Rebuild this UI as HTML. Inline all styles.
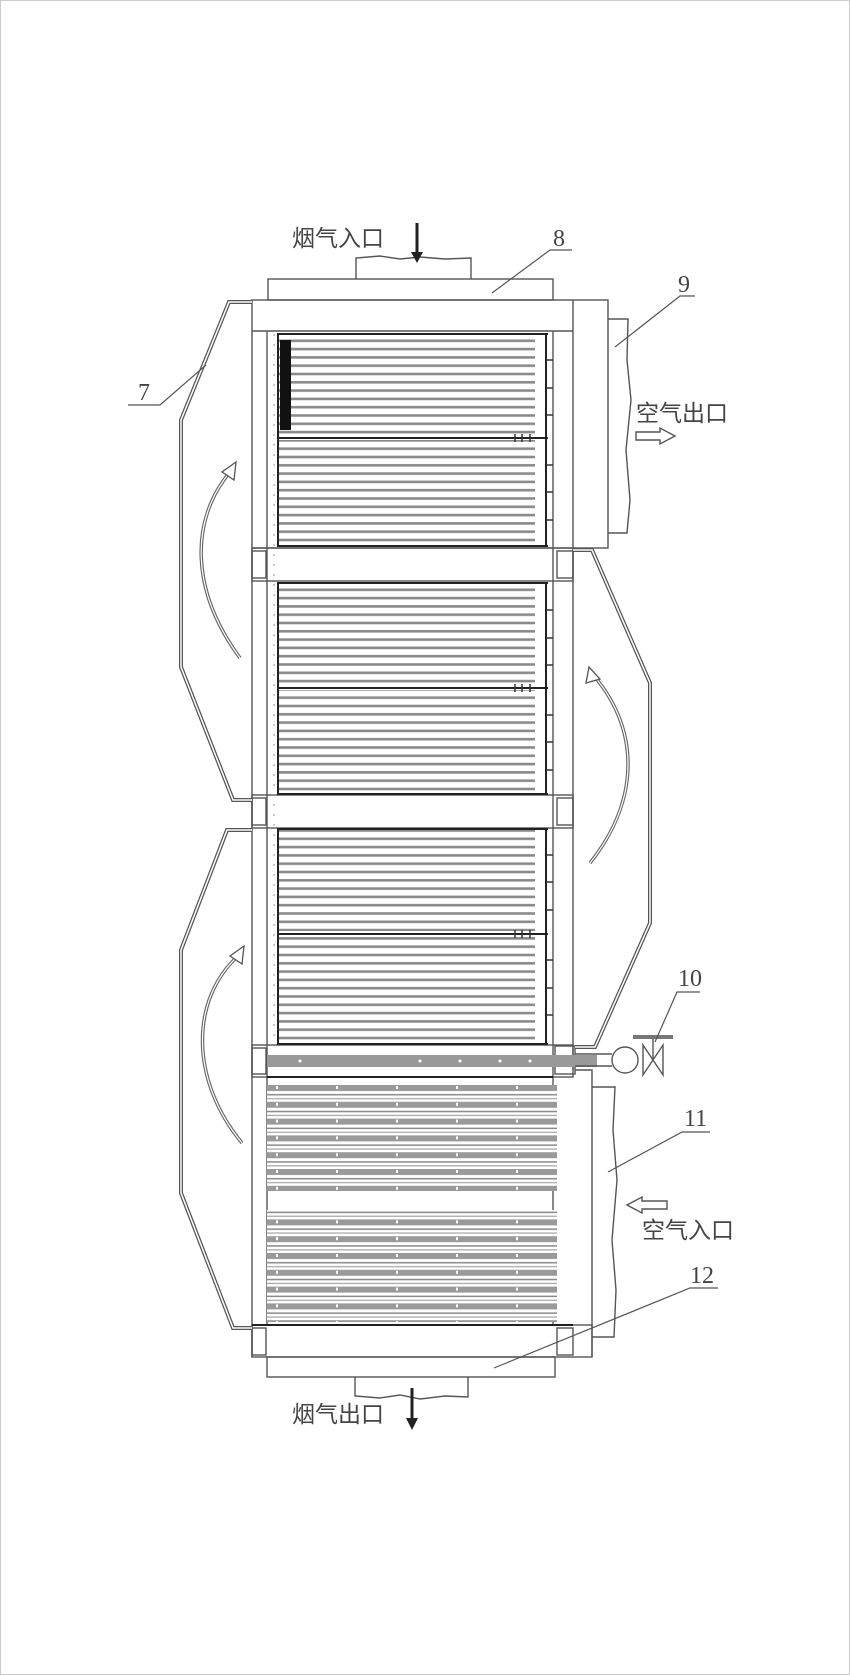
<!DOCTYPE html>
<html><head><meta charset="utf-8">
<style>
html,body{margin:0;padding:0;background:#fff;}
svg{display:block;}
.t{font-family:"Liberation Sans","Noto Sans CJK SC",sans-serif;font-size:23px;fill:#444;}
.n{font-family:"Liberation Serif","DejaVu Serif",serif;font-size:24px;fill:#444;}
</style></head><body>
<svg width="850" height="1675" viewBox="0 0 850 1675" xmlns="http://www.w3.org/2000/svg">
<defs>
<pattern id="tubes" patternUnits="userSpaceOnUse" width="20" height="8.3" y="337">
<rect x="0" y="0" width="20" height="8.3" fill="#fff"/>
<rect x="0" y="2.5" width="20" height="2.6" fill="#8a8a8a"/>
</pattern>
<pattern id="low" patternUnits="userSpaceOnUse" width="60" height="16.8" y="1085">
<rect width="60" height="16.8" fill="#fff"/>
<rect x="0" y="0" width="60" height="6" fill="#9a9a9a"/>
<rect x="0" y="9" width="60" height="1.5" fill="#888"/>
<rect x="0" y="13" width="60" height="1.3" fill="#aaa"/>
<rect x="36" y="1" width="2" height="3" fill="#fff"/>
</pattern>
</defs>
<rect x="0.5" y="0.5" width="849" height="1674" fill="#fff" stroke="#ccc"/>

<g fill="none" stroke="#555" stroke-width="1.4">
<!-- inlet duct & plenum 8 -->
<path d="M356,279 V258 L380,256 L400,259 L420,257 L445,259 L471,258 V279"/>
<rect x="268" y="279" width="285" height="21"/>
<!-- frame -->
<rect x="252" y="300" width="356" height="248"/>
<line x1="252" y1="331" x2="573" y2="331"/>
<line x1="573" y1="300" x2="573" y2="1070"/>
<line x1="267" y1="331" x2="267" y2="1325"/>
<line x1="553" y1="331" x2="553" y2="1325"/>
<line x1="252" y1="548" x2="252" y2="1357"/>
<!-- module 9 -->
<path d="M608,319 H628 L627,360 L631,400 L626,450 L630,500 L627,533 H608"/>
<!-- bands -->
<rect x="252" y="548" width="321" height="33"/>
<rect x="252" y="795" width="321" height="33"/>
<rect x="252" y="1045" width="321" height="32"/>
<rect x="252" y="1325" width="340" height="32"/>
<rect x="252" y="551" width="14" height="27"/><rect x="557" y="551" width="16" height="27"/>
<rect x="252" y="798" width="14" height="27"/><rect x="557" y="798" width="16" height="27"/>
<rect x="252" y="1048" width="14" height="26"/><rect x="555" y="1046" width="20" height="28"/>
<rect x="252" y="1328" width="14" height="27"/><rect x="557" y="1328" width="16" height="27"/>
<!-- lower right column and module 11 -->
<path d="M575,1070 H592 V1357"/>
<path d="M592,1087 H615 L613,1130 L617,1180 L612,1240 L616,1290 L614,1337 H592"/>
<!-- bottom plenum, outlet -->
<rect x="267" y="1357" width="288" height="20"/>
<path d="M355,1377 V1396 L380,1398 L400,1395 L420,1399 L445,1396 L468,1397 V1377"/>
</g>

<!-- tube modules upper -->
<g>
<rect x="278" y="335" width="257" height="100" fill="url(#tubes)"/>
<rect x="278" y="440" width="257" height="105" fill="url(#tubes)"/>
<rect x="278" y="583" width="257" height="102" fill="url(#tubes)"/>
<rect x="278" y="690" width="257" height="103" fill="url(#tubes)"/>
<rect x="278" y="830" width="257" height="101" fill="url(#tubes)"/>
<rect x="278" y="936" width="257" height="107" fill="url(#tubes)"/>
<rect x="280" y="340" width="11" height="90" fill="#111"/>
</g>
<g stroke="#222" stroke-width="2" fill="none">
<line x1="277" y1="334" x2="548" y2="334"/><line x1="277" y1="438" x2="548" y2="438"/><line x1="277" y1="546" x2="548" y2="546"/>
<line x1="277" y1="583" x2="548" y2="583"/><line x1="277" y1="688" x2="548" y2="688"/><line x1="277" y1="794" x2="548" y2="794"/>
<line x1="277" y1="829" x2="548" y2="829"/><line x1="277" y1="934" x2="548" y2="934"/><line x1="277" y1="1044" x2="548" y2="1044"/>
<line x1="546" y1="334" x2="546" y2="546"/><line x1="546" y1="583" x2="546" y2="794"/><line x1="546" y1="829" x2="546" y2="1044"/>
<line x1="278" y1="334" x2="278" y2="546"/><line x1="278" y1="583" x2="278" y2="794"/><line x1="278" y1="829" x2="278" y2="1044"/>
</g>
<g stroke="#333" stroke-width="1.5">
<path d="M546,360h7M546,388h7M546,415h7M546,465h7M546,492h7M546,520h7M546,610h7M546,638h7M546,665h7M546,715h7M546,742h7M546,770h7M546,855h7M546,882h7M546,910h7M546,960h7M546,988h7M546,1015h7"/>
<path d="M515,434v8M522,434v8M530,434v8M515,684v8M522,684v8M530,684v8M515,930v8M522,930v8M530,930v8"/>
</g>
<g stroke="#999" stroke-width="1" stroke-dasharray="2,8">
<line x1="274" y1="334" x2="274" y2="1044"/>
</g>
<!-- header pipe -->
<rect x="267" y="1055" width="330" height="12" fill="#999"/>
<g fill="#fff"><circle cx="300" cy="1061" r="1.5"/><circle cx="420" cy="1061" r="1.5"/><circle cx="460" cy="1061" r="1.5"/><circle cx="500" cy="1061" r="1.5"/><circle cx="530" cy="1061" r="1.5"/></g>
<line x1="267" y1="1077" x2="553" y2="1077" stroke="#222" stroke-width="2"/>
<!-- lower banks -->
<rect x="267" y="1085" width="290" height="106" fill="url(#low)"/>
<rect x="267" y="1210" width="290" height="112" fill="url(#low)"/>
<line x1="252" y1="1325" x2="573" y2="1325" stroke="#222" stroke-width="2"/>

<!-- bypass ducts -->
<g fill="none" stroke="#555" stroke-width="4">
<path d="M252,302 H229 L181,420 V667 L233,800 H252"/>
<path d="M252,830 H227 L181,950 V1193 L233,1328 H252"/>
<path d="M573,550 H592 L650,683 V923 L595,1047 H575"/>
</g>
<g fill="none" stroke="#fff" stroke-width="1.5">
<path d="M252,302 H229 L181,420 V667 L233,800 H252"/>
<path d="M252,830 H227 L181,950 V1193 L233,1328 H252"/>
<path d="M573,550 H592 L650,683 V923 L595,1047 H575"/>
</g>

<!-- curved arrows -->
<g fill="none" stroke="#666" stroke-width="3.5">
<path d="M240,658 C190,590 190,520 230,472"/>
<path d="M242,1143 C190,1080 190,1000 238,956"/>
<path d="M590,863 C640,800 640,730 594,676"/>
</g>
<g fill="none" stroke="#fff" stroke-width="1.2">
<path d="M240,658 C190,590 190,520 230,472"/>
<path d="M242,1143 C190,1080 190,1000 238,956"/>
<path d="M590,863 C640,800 640,730 594,676"/>
</g>
<g fill="#fff" stroke="#555" stroke-width="1.3">
<polygon points="236,462 222,472 234,480"/>
<polygon points="244,946 230,956 242,964"/>
<polygon points="589,667 586,683 600,679"/>
</g>

<!-- valve 10 -->
<g fill="none" stroke="#555" stroke-width="1.4">
<line x1="575" y1="1054" x2="612" y2="1054"/><line x1="575" y1="1066" x2="612" y2="1066"/>
<circle cx="625" cy="1060" r="13"/>
<polygon points="643,1045 663,1075 663,1045 643,1075"/>
<line x1="653" y1="1060" x2="653" y2="1037"/>
</g>
<rect x="633" y="1035" width="40" height="4" fill="#777"/>

<!-- arrows flue -->
<g stroke="#222" stroke-width="3">
<line x1="417" y1="223" x2="417" y2="254"/>
<line x1="412" y1="1388" x2="412" y2="1420"/>
</g>
<polygon points="411,252 423,252 417,263" fill="#222"/>
<polygon points="406,1418 418,1418 412,1430" fill="#222"/>
<!-- air arrows -->
<g fill="#fff" stroke="#555" stroke-width="1.4">
<path d="M636,432 H660 V428 L675,436 L660,444 V440 H636 Z"/>
<path d="M667,1201 H642 V1197 L627,1205 L642,1213 V1209 H667 Z"/>
</g>

<!-- leaders -->
<g fill="none" stroke="#555" stroke-width="1.2">
<path d="M492,293 L550,250 H572"/>
<path d="M615,347 L680,296 H695"/>
<path d="M206,365 L160,405 H128"/>
<path d="M655,1042 L677,992 H700"/>
<path d="M608,1172 L682,1132 H710"/>
<path d="M494,1368 L690,1288 H718"/>
</g>

<!-- text -->
<text class="t" x="292" y="246">烟气入口</text>
<text class="t" x="292" y="1422">烟气出口</text>
<text class="t" x="636" y="421">空气出口</text>
<text class="t" x="642" y="1238">空气入口</text>
<text class="n" x="553" y="246">8</text>
<text class="n" x="678" y="292">9</text>
<text class="n" x="138" y="400">7</text>
<text class="n" x="678" y="986">10</text>
<text class="n" x="684" y="1126">11</text>
<text class="n" x="690" y="1283">12</text>
</svg>
</body></html>
